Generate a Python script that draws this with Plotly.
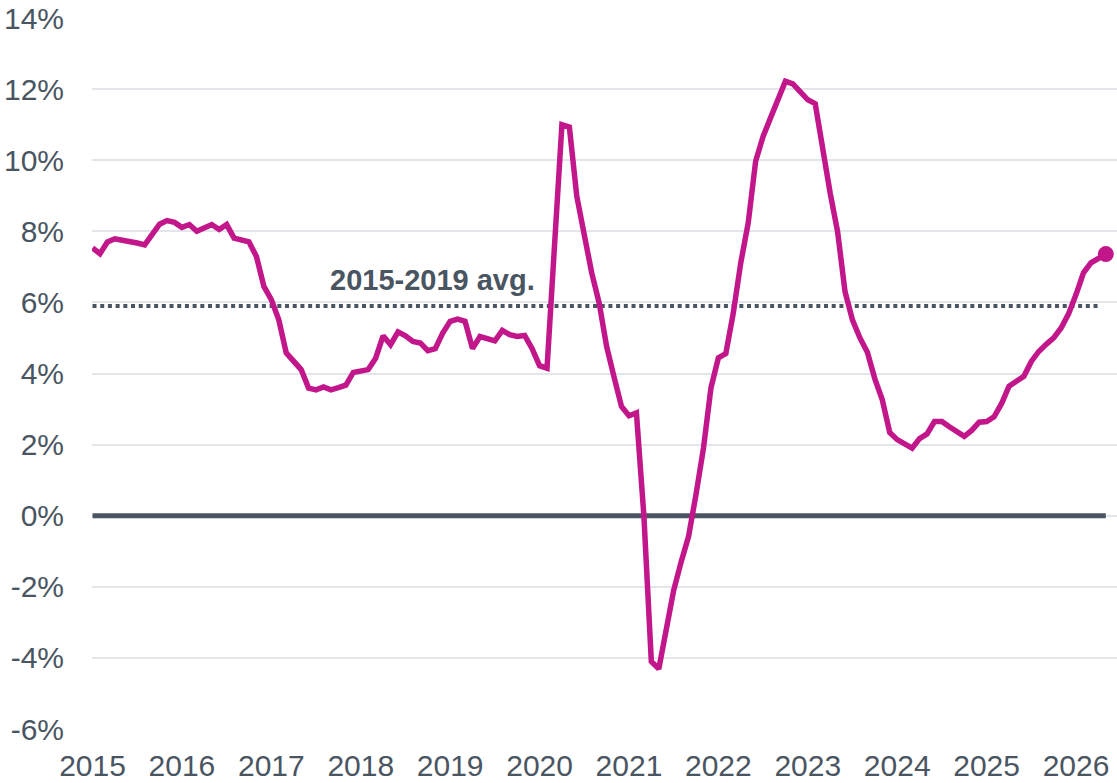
import plotly.graph_objects as go

# Monthly values, Jan 2015 .. May 2026 (percent)
values = [
    7.53, 7.37, 7.70, 7.79, 7.75, 7.72, 7.67, 7.62, 7.90, 8.20, 8.30, 8.25,   # 2015
    8.11, 8.19, 8.00, 8.10, 8.19, 8.05, 8.19, 7.81, 7.76, 7.70, 7.29, 6.45,   # 2016
    6.08, 5.51, 4.58, 4.35, 4.11, 3.59, 3.54, 3.62, 3.54, 3.60, 3.67, 4.03,   # 2017
    4.07, 4.11, 4.43, 5.06, 4.81, 5.17, 5.06, 4.90, 4.86, 4.64, 4.70, 5.14,   # 2018
    5.47, 5.53, 5.47, 4.70, 5.04, 4.98, 4.92, 5.21, 5.09, 5.04, 5.07, 4.70,   # 2019
    4.22, 4.15, 7.60, 11.00, 10.93, 8.98, 7.90, 6.83, 5.98, 4.76, 3.90, 3.07, # 2020
    2.81, 2.89, 0.00, -4.10, -4.31, -3.10, -2.10, -1.30, -0.58, 0.60, 1.90, 3.59,  # 2021
    4.44, 4.56, 5.70, 7.11, 8.23, 9.97, 10.67, 11.19, 11.66, 12.22, 12.15, 11.94,  # 2022
    11.70, 11.59, 10.30, 9.08, 7.99, 6.30, 5.50, 5.00, 4.60, 3.85, 3.26, 2.34,   # 2023
    2.14, 2.00, 1.90, 2.17, 2.30, 2.65, 2.65, 2.50, 2.38, 2.23, 2.40, 2.63,     # 2024
    2.65, 2.78, 3.15, 3.64, 3.78, 3.92, 4.34, 4.62, 4.82, 5.00, 5.28, 5.68,     # 2025
    6.22, 6.83, 7.11, 7.25, 7.36,                                               # 2026
]
months = list(range(len(values)))

avg_2015_2019 = 5.9
avg_label = "2015-2019 avg."

year_labels = ["2015", "2016", "2017", "2018", "2019", "2020",
               "2021", "2022", "2023", "2024", "2025", "2026"]
year_ticks = [12 * i for i in range(len(year_labels))]

y_ticks = [-6, -4, -2, 0, 2, 4, 6, 8, 10, 12, 14]
y_labels = ["-6%", "-4%", "-2%", "0%", "2%", "4%", "6%", "8%", "10%", "12%", "14%"]

MAGENTA = "#C2168B"
SLATE = "#4A5562"
GRID = "#E2E6EA"
FONT = "Liberation Sans, Arial, sans-serif"

fig = go.Figure()

# zero line
fig.add_trace(go.Scatter(
    x=[months[0], months[-1]], y=[0, 0], mode="lines",
    line=dict(color=SLATE, width=5), hoverinfo="skip", showlegend=False))

# 2015-2019 average (dotted)
fig.add_trace(go.Scatter(
    x=[months[0], months[-1] - 1], y=[avg_2015_2019, avg_2015_2019], mode="lines",
    line=dict(color=SLATE, width=4, dash="4px,3.7px"), hoverinfo="skip", showlegend=False))

# main series
fig.add_trace(go.Scatter(
    x=months, y=values, mode="lines",
    line=dict(color=MAGENTA, width=5.5), showlegend=False, cliponaxis=False))

# last point marker
fig.add_trace(go.Scatter(
    x=[months[-1]], y=[values[-1]], mode="markers",
    marker=dict(color=MAGENTA, size=16), showlegend=False, cliponaxis=False))

fig.add_annotation(
    x=31.6, y=6.64, text="<b>" + avg_label + "</b>", showarrow=False,
    xanchor="left", yanchor="middle",
    font=dict(family=FONT, size=29, color=SLATE))

fig.update_layout(
    width=1117, height=783,
    margin=dict(l=92, r=0, t=18, b=54, autoexpand=False),
    paper_bgcolor="white", plot_bgcolor="white",
    font=dict(family=FONT, size=30, color=SLATE),
    xaxis=dict(
        range=[-0.07, 137.5], tickvals=year_ticks, ticktext=year_labels,
        showgrid=False, zeroline=False, showline=False, ticks="",
        tickfont=dict(family=FONT, size=30, color=SLATE),
        ticklabelstandoff=16, automargin=False),
    yaxis=dict(
        range=[-6, 14], tickvals=y_ticks, ticktext=y_labels,
        showgrid=True, gridcolor=GRID, gridwidth=2,
        zeroline=False, showline=False, ticks="",
        tickfont=dict(family=FONT, size=30, color=SLATE),
        ticklabelstandoff=27, automargin=False),
)

fig.write_html(
    "out.html",
    config={"displayModeBar": False},
    post_script="document.body.style.margin='0px';document.body.style.overflow='hidden';",
)
